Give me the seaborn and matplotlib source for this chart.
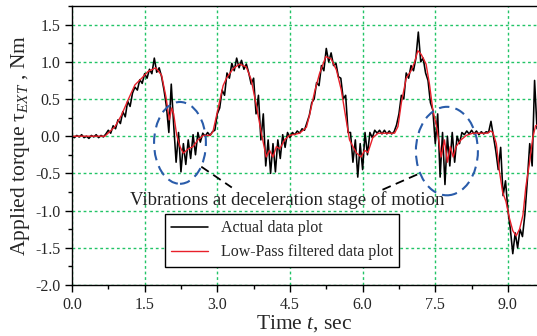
import numpy as np
import pandas as pd
import matplotlib
matplotlib.use("Agg")
import matplotlib.pyplot as plt
import seaborn as sns
from matplotlib.patches import Ellipse
from matplotlib.ticker import MultipleLocator, FormatStrFormatter

# --- 1. Data ---
# actual (noisy) torque, sampled every 0.05 s from 0.0 to 9.6 s
actual_t = [round(0.05 * i, 2) for i in range(193)]
actual_tau = [
    0.00, -0.02, 0.01, -0.01, 0.02, -0.02, 0.00, -0.03, 0.01, -0.01,
    0.02, -0.02, 0.01, -0.01, 0.03, 0.08, 0.04, 0.14, 0.10, 0.22,
    0.17, 0.33, 0.26, 0.47, 0.40, 0.58, 0.66, 0.62, 0.76, 0.71,
    0.84, 0.78, 0.90, 0.84, 1.05, 0.86, 0.92, 0.80, 0.62, 0.40,
    0.05, 0.70, 0.15, -0.35, 0.05, -0.48, -0.10, -0.38, -0.05, -0.30,
    0.02, -0.25, 0.05, -0.08, 0.04, 0.00, 0.05, 0.01, 0.06, 0.08,
    0.30, 0.38, 0.62, 0.55, 0.85, 0.78, 0.98, 0.88, 1.05, 0.92,
    1.02, 0.90, 0.97, 0.85, 0.70, 0.78, 0.30, 0.55, -0.05, 0.30,
    -0.40, -0.05, -0.50, -0.10, -0.48, -0.05, -0.30, 0.02, -0.15, 0.05,
    -0.02, 0.05, 0.02, 0.07, 0.04, 0.10, 0.08, 0.18, 0.28, 0.45,
    0.50, 0.72, 0.68, 0.95, 0.88, 1.18, 1.00, 1.12, 0.95, 0.98,
    0.80, 0.78, 0.50, 0.55, 0.05, 0.05, -0.35, -0.05, -0.55, -0.10,
    -0.45, 0.05, -0.25, 0.05, -0.02, 0.08, 0.04, 0.08, 0.03, 0.08,
    0.03, 0.07, 0.03, 0.06, 0.15, 0.30, 0.55, 0.50, 0.85, 0.78,
    0.95, 0.88, 1.05, 1.40, 1.00, 1.05, 0.85, 0.75, 0.45, 0.35,
    -0.10, 0.30, -0.55, 0.05, -0.65, 0.00, -0.40, 0.05, -0.35, 0.00,
    -0.10, 0.05, 0.02, 0.07, 0.03, 0.08, 0.03, 0.07, 0.02, 0.06,
    0.03, 0.06, 0.05, 0.20, 0.00, -0.20, -0.45, -0.15, -0.80, -0.60,
    -1.00, -1.25, -1.58, -1.30, -1.50, -1.25, -1.35, -1.05, -0.60, -0.10,
    -0.40, 0.75, 0.10,
]

# low-pass filtered torque
filt_t = [
    0.00, 0.68, 0.89, 1.02, 1.16, 1.30, 1.44, 1.57, 1.73, 1.85,
    1.94, 2.01, 2.06, 2.10, 2.16, 2.23, 2.30, 2.40, 2.50, 2.60,
    2.71, 2.85, 2.91, 3.02, 3.12, 3.19, 3.33, 3.46, 3.60, 3.70,
    3.81, 3.91, 4.01, 4.08, 4.15, 4.22, 4.29, 4.39, 4.49, 4.70,
    4.84, 4.91, 5.01, 5.11, 5.24, 5.35, 5.46, 5.56, 5.65, 5.73,
    5.80, 5.88, 5.97, 6.04, 6.11, 6.21, 6.32, 6.56, 6.66, 6.73,
    6.80, 6.90, 7.00, 7.07, 7.14, 7.21, 7.31, 7.38, 7.45, 7.52,
    7.57, 7.62, 7.69, 7.75, 7.81, 7.87, 7.93, 8.03, 8.14, 8.27,
    8.58, 8.64, 8.69, 8.76, 8.82, 8.89, 8.96, 9.03, 9.10, 9.17,
    9.24, 9.31, 9.37, 9.44, 9.51, 9.57, 9.60,
]
filt_tau = [
    0.00, 0.00, 0.13, 0.28, 0.49, 0.69, 0.78, 0.87, 0.92, 0.82,
    0.53, 0.22, 0.38, 0.30, 0.02, -0.14, -0.23, -0.17, -0.14, -0.05,
    0.01, 0.01, 0.06, 0.38, 0.68, 0.78, 0.91, 0.97, 0.93, 0.76,
    0.40, 0.04, -0.28, -0.19, -0.28, -0.14, -0.17, -0.05, 0.01, 0.04,
    0.12, 0.30, 0.60, 0.84, 1.07, 1.04, 0.89, 0.62, 0.26, -0.05,
    -0.14, -0.23, -0.28, -0.19, -0.22, -0.02, 0.04, 0.04, 0.04, 0.13,
    0.45, 0.78, 0.88, 0.99, 1.15, 1.10, 0.97, 0.70, 0.35, 0.15,
    -0.05, -0.28, -0.05, -0.35, -0.14, -0.28, -0.14, -0.05, 0.01, 0.04,
    0.04, 0.07, 0.05, -0.10, -0.45, -0.75, -0.88, -1.10, -1.27, -1.34,
    -1.25, -1.06, -0.68, -0.38, -0.03, 0.14, 0.15,
]

x_ticks = [0.0, 1.5, 3.0, 4.5, 6.0, 7.5, 9.0]
y_ticks = [-2.0, -1.5, -1.0, -0.5, 0.0, 0.5, 1.0, 1.5]

actual = pd.DataFrame({"t": actual_t, "tau": actual_tau})
filtered = pd.DataFrame({"t": filt_t, "tau": filt_tau})

# --- 2. Style ---
sns.set_style("ticks")
plt.rcParams["font.family"] = ["Liberation Serif", "DejaVu Serif"]
plt.rcParams["mathtext.fontset"] = "custom"
plt.rcParams["mathtext.rm"] = "Liberation Serif"
plt.rcParams["mathtext.it"] = "Liberation Serif:italic"
plt.rcParams["axes.unicode_minus"] = False

fig = plt.figure(figsize=(5.37, 3.36), dpi=100)
ax = fig.add_axes([0.134, 0.152, 0.866, 0.830])

# --- 3. Lines ---
sns.lineplot(data=actual, x="t", y="tau", ax=ax, color="black", lw=1.15,
             label="Actual data plot", sort=False)
sns.lineplot(data=filtered, x="t", y="tau", ax=ax, color="#e8202a", lw=1.0,
             label="Low-Pass filtered data plot", sort=False)

# --- 4. Axes ---
ax.set_xlim(0, 9.6)
ax.set_ylim(-2.0, 1.75)
ax.set_xticks(x_ticks)
ax.set_yticks(y_ticks)
ax.xaxis.set_minor_locator(MultipleLocator(0.75))
ax.yaxis.set_minor_locator(MultipleLocator(0.25))
ax.xaxis.set_major_formatter(FormatStrFormatter("%.1f"))
ax.yaxis.set_major_formatter(FormatStrFormatter("%.1f"))
ax.tick_params(which="major", direction="out", length=5, width=1,
               labelsize=11.5, color="black")
ax.tick_params(which="minor", direction="out", length=3, width=1,
               color="black")
ax.grid(True, which="major", color="#22c466", lw=1.0, ls=(0, (2, 2)))
for s in ax.spines.values():
    s.set_color("black")
    s.set_linewidth(1.0)
ax.spines["right"].set_visible(False)

ax.set_xlabel("Time $t$, sec", fontsize=15.5, labelpad=0)
ax.set_ylabel("Applied torque \u03c4$_{EXT}$ , Nm", fontsize=15.5, labelpad=2)

# --- 5. Annotations ---
for (cx, cy, w, h) in [(2.23, -0.09, 1.07, 1.10), (7.74, -0.20, 1.28, 1.19)]:
    ax.add_patch(Ellipse((cx, cy), w, h, fill=False, edgecolor="#2a5caa",
                         lw=1.5, ls=(0, (5, 3)), zorder=4))
ax.plot([2.67, 3.30], [-0.41, -0.69], color="black", lw=1.3,
        ls=(0, (5, 3)), zorder=4)
ax.plot([6.41, 7.18], [-0.72, -0.50], color="black", lw=1.3,
        ls=(0, (5, 3)), zorder=4)
ax.text(4.44, -0.865, "Vibrations at deceleration stage of motion",
        ha="center", va="center", fontsize=13.5, color="#222222")

leg = ax.legend(loc="lower left", bbox_to_anchor=(0.2, 0.066),
                borderaxespad=0, fontsize=11.5, handlelength=2.3,
                fancybox=False, framealpha=1, edgecolor="black")
leg.get_frame().set_linewidth(1.0)

fig.savefig("out.png", dpi=100)
